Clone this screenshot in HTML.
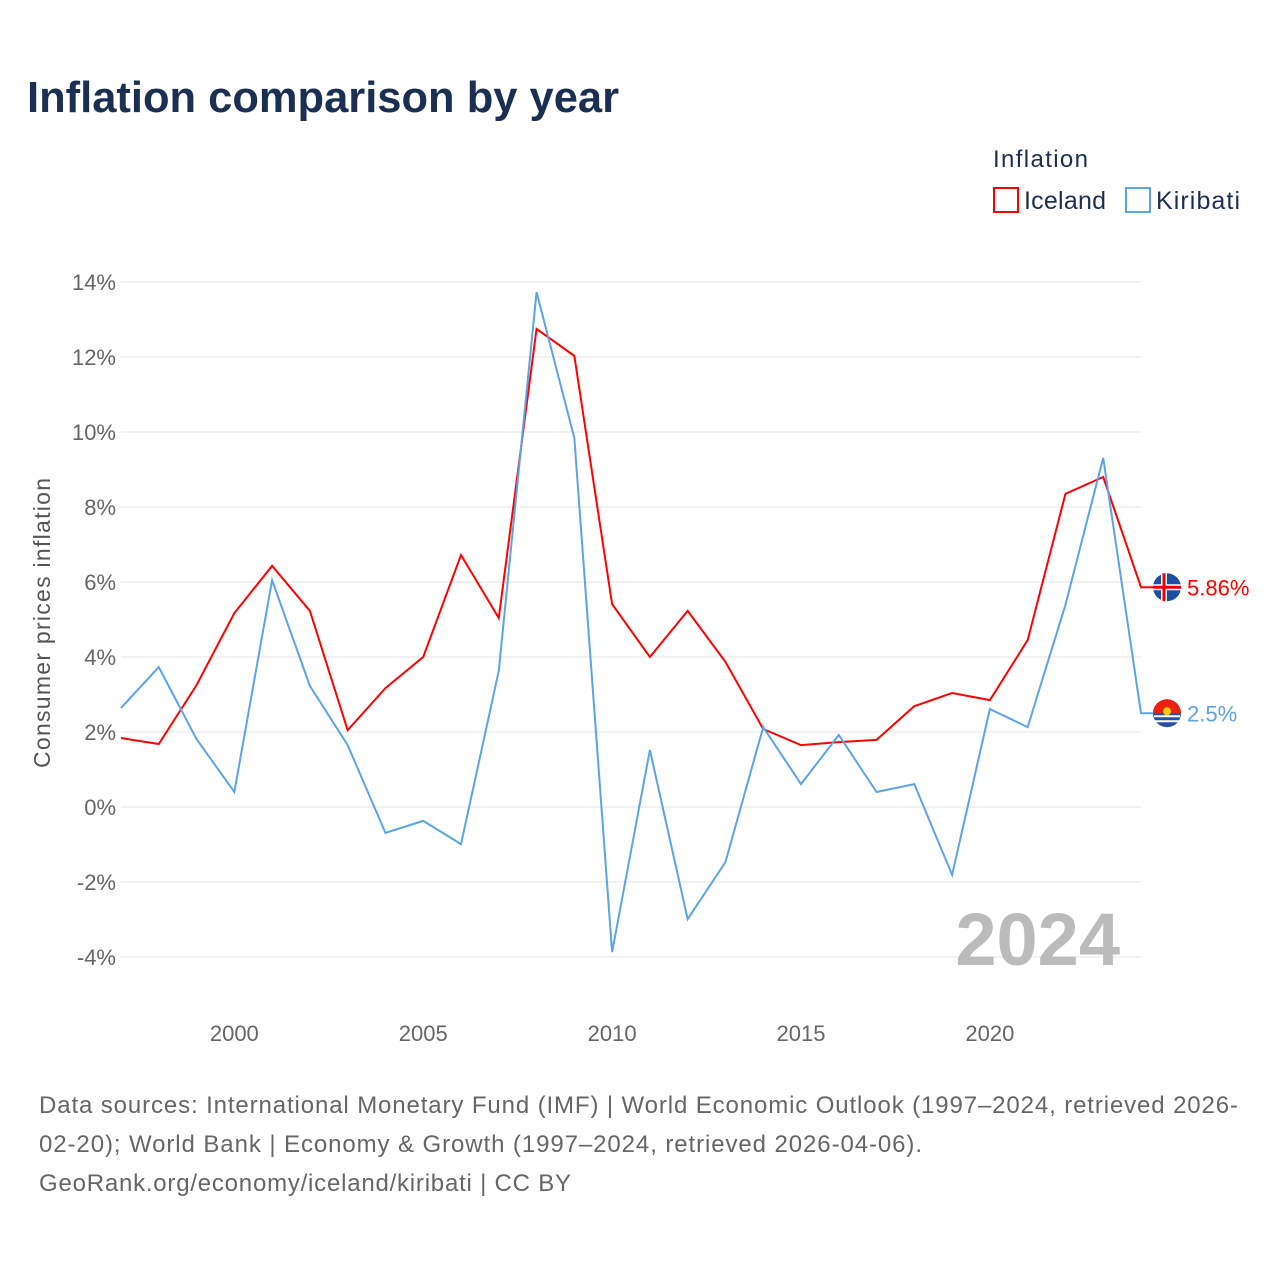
<!DOCTYPE html>
<html><head><meta charset="utf-8">
<style>
body{margin:0;background:#fff;width:1280px;height:1280px;overflow:hidden;font-family:"Liberation Sans",sans-serif;}
</style></head>
<body>
<svg id="chart" width="1280" height="1280" xmlns="http://www.w3.org/2000/svg" font-family="Liberation Sans, sans-serif">
<text x="27" y="112" font-size="44" font-weight="bold" fill="#1b2f52" textLength="592" lengthAdjust="spacingAndGlyphs">Inflation comparison by year</text>
<text x="993" y="167" font-size="24" fill="#1b2f52" textLength="95">Inflation</text>
<g><rect x="994" y="188" width="24" height="24" fill="none" stroke="#ff0000" stroke-width="2"/><text x="1024" y="209" font-size="25" fill="#1b2f52" textLength="82">Iceland</text></g>
<g><rect x="1126" y="188" width="24" height="24" fill="none" stroke="#5ba4e6" stroke-width="2"/><text x="1156" y="209" font-size="25" fill="#1b2f52" textLength="84">Kiribati</text></g>
<text transform="translate(50,623) rotate(-90)" text-anchor="middle" font-size="23" fill="#555" textLength="290">Consumer prices inflation</text>
<g id="grid"></g><g id="xticks"></g><g id="lines"></g>
<text x="1120" y="965" text-anchor="end" font-size="74" font-weight="bold" fill="#bbb">2024</text>
<g font-size="24" fill="#666">
<text x="39" y="1113" textLength="1199">Data sources: International Monetary Fund (IMF) | World Economic Outlook (1997–2024, retrieved 2026-</text>
<text x="39" y="1152" textLength="883">02-20); World Bank | Economy &amp; Growth (1997–2024, retrieved 2026-04-06).</text>
<text x="39" y="1191" textLength="532">GeoRank.org/economy/iceland/kiribati | CC BY</text>
</g>
</svg>
<script>
const years=[1997,1998,1999,2000,2001,2002,2003,2004,2005,2006,2007,2008,2009,2010,2011,2012,2013,2014,2015,2016,2017,2018,2019,2020,2021,2022,2023,2024];
const iceland=[1.84,1.68,3.25,5.17,6.43,5.23,2.05,3.17,4.0,6.72,5.04,12.75,12.03,5.41,4.0,5.23,3.87,2.08,1.65,1.73,1.79,2.69,3.04,2.85,4.45,8.35,8.8,5.86];
const kiribati=[2.64,3.73,1.81,0.4,6.05,3.23,1.65,-0.69,-0.37,-0.99,3.63,13.73,9.84,-3.87,1.52,-2.99,-1.47,2.13,0.61,1.92,0.4,0.61,-1.81,2.61,2.13,5.39,9.31,2.5];
const yTicks=[-4,-2,0,2,4,6,8,10,12,14];
const xTicks=[2000,2005,2010,2015,2020];
const NS="http://www.w3.org/2000/svg";
const X=y=>121+(y-1997)*(1141-121)/27;
const Y=v=>807-v*37.5;
function mk(t,a,p){const e=document.createElementNS(NS,t);for(const k in a)e.setAttribute(k,a[k]);p.appendChild(e);return e;}
const g=document.getElementById('grid');
yTicks.forEach(v=>{
 const l=mk('line',{x1:121,x2:1141,y1:Y(v),y2:Y(v),stroke:'#e6e6e6','stroke-width':1},g);
 
 
 const t=mk('text',{x:116,y:Y(v)+8,'text-anchor':'end','font-size':22,fill:'#666'},g);
 
 
 t.textContent=v+'%';
});
const xg=document.getElementById('xticks');
xTicks.forEach(v=>{
 const t=mk('text',{x:X(v),y:1041,'text-anchor':'middle','font-size':22,fill:'#666'},xg);
 
 
 t.textContent=v;
});
const lg=document.getElementById('lines');
function series(vals,color,name,label,flag){
 const pts=vals.map((v,i)=>X(years[i])+','+Y(v)).join(' ');
 const last=vals[vals.length-1];
 const p=mk('polyline',{points:pts+' 1153,'+Y(last),fill:'none',stroke:color,'stroke-width':2},lg);
 
 
 const c=mk('circle',{cx:1167,cy:Y(last),r:14,fill:flag},lg);
 
 
 const t=mk('text',{x:1187,y:Y(last)+8,'font-size':22,fill:color},lg);
 
 
 t.textContent=label;
}
series(iceland,'#ff0000','iceland',iceland[iceland.length-1]+'%','#1d4fa0');
series(kiribati,'#5ba4e6','kiribati',kiribati[kiribati.length-1]+'%','#2650a8');
const yi=Y(iceland[27]);
mk('rect',{x:1153,y:yi-3,width:28,height:6,fill:'#fff'},lg);
mk('rect',{x:1161,y:yi-14,width:6,height:28,fill:'#fff'},lg);
mk('rect',{x:1153,y:yi-1.5,width:28,height:3,fill:'#e00'},lg);
mk('rect',{x:1162.5,y:yi-14,width:3,height:28,fill:'#e00'},lg);
const yk=Y(kiribati[27]);
mk('path',{d:`M1153 ${yk} A14 14 0 0 1 1181 ${yk} Z`,fill:'#e21'},lg);
mk('circle',{cx:1167,cy:yk-2,r:4,fill:'#fc0'},lg);
mk('rect',{x:1154,y:yk+2,width:26,height:2,fill:'#fff'},lg);
mk('rect',{x:1155,y:yk+7,width:24,height:2,fill:'#fff'},lg);
</script>
</body></html>
